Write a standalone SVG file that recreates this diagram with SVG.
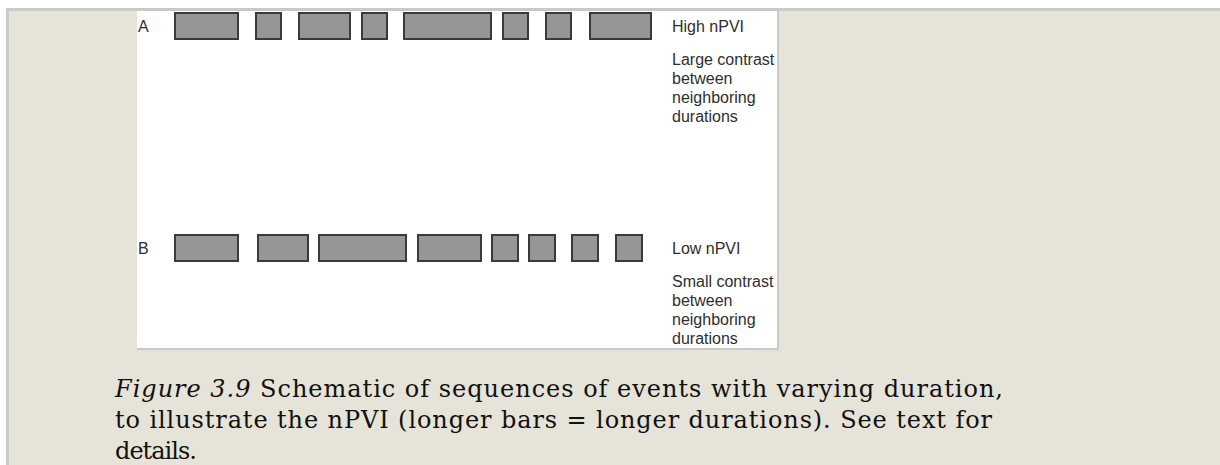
<svg xmlns="http://www.w3.org/2000/svg" width="1220" height="465" viewBox="0 0 1220 465">
<style>
.bar{fill:#969696;stroke:#3a3a3a;stroke-width:2}
.lbl{font-family:"Liberation Sans",Arial,sans-serif;font-size:16px;fill:#2e2e2e}
.cap{font-family:"DejaVu Serif",serif;font-size:24px;fill:#111}
</style>
<defs>
<clipPath id="panelClip"><rect x="137" y="11" width="640" height="337"/></clipPath>
</defs>
<rect x="0" y="0" width="1220" height="465" fill="#ffffff"/>
<rect x="6" y="8" width="1214" height="457" fill="#c9c9c9"/>
<rect x="9" y="11" width="1211" height="454" fill="#e6e3d9"/>
<g id="panel">
<rect x="137" y="11" width="642" height="339" fill="#c9c9c9"/>
<rect x="137" y="11" width="640" height="337" fill="#ffffff"/>
</g>
<g clip-path="url(#panelClip)">
<g id="rowA">
<text class="lbl" x="138" y="32">A</text>
<rect class="bar" x="175" y="13" width="63" height="26"/>
<rect class="bar" x="256" y="13" width="25" height="26"/>
<rect class="bar" x="299" y="13" width="51" height="26"/>
<rect class="bar" x="362" y="13" width="25" height="26"/>
<rect class="bar" x="404" y="13" width="87" height="26"/>
<rect class="bar" x="503" y="13" width="25" height="26"/>
<rect class="bar" x="546" y="13" width="25" height="26"/>
<rect class="bar" x="590" y="13" width="61" height="26"/>
</g>
<g id="labelA">
<text class="lbl" x="672" y="32">High nPVI</text>
<text class="lbl" x="672" y="65">Large contrast</text>
<text class="lbl" x="672" y="84">between</text>
<text class="lbl" x="672" y="103">neighboring</text>
<text class="lbl" x="672" y="122">durations</text>
</g>
<g id="rowB">
<text class="lbl" x="138" y="254">B</text>
<rect class="bar" x="175" y="235" width="63" height="26"/>
<rect class="bar" x="258" y="235" width="50" height="26"/>
<rect class="bar" x="319" y="235" width="87" height="26"/>
<rect class="bar" x="418" y="235" width="63" height="26"/>
<rect class="bar" x="492" y="235" width="26" height="26"/>
<rect class="bar" x="529" y="235" width="26" height="26"/>
<rect class="bar" x="572" y="235" width="26" height="26"/>
<rect class="bar" x="616" y="235" width="26" height="26"/>
</g>
<g id="labelB">
<text class="lbl" x="672" y="254">Low nPVI</text>
<text class="lbl" x="672" y="287">Small contrast</text>
<text class="lbl" x="672" y="306">between</text>
<text class="lbl" x="672" y="325">neighboring</text>
<text class="lbl" x="672" y="344">durations</text>
</g>
</g>
<g id="caption">
<text class="cap" x="115" y="397" textLength="888" lengthAdjust="spacing"><tspan font-style="italic">Figure 3.9</tspan>  Schematic of sequences of events with varying duration,</text>
<text class="cap" x="115" y="428" textLength="877" lengthAdjust="spacing">to illustrate the nPVI (longer bars = longer durations). See text for</text>
<text class="cap" x="115" y="459" textLength="82" lengthAdjust="spacing">details.</text>
</g>
</svg>
